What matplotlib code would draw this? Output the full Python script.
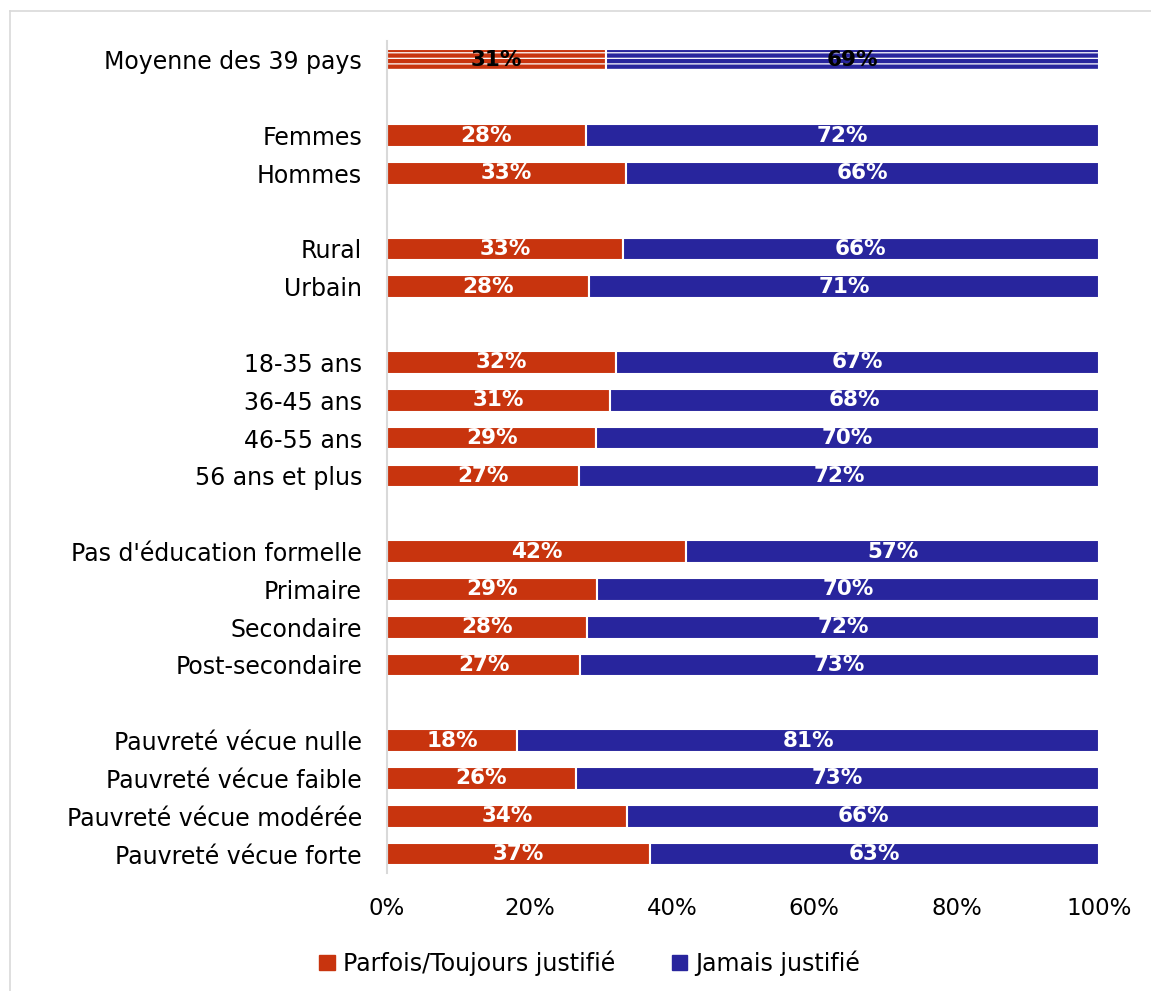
import matplotlib
matplotlib.use('Agg')
import numpy as np
import matplotlib.pyplot as plt
from matplotlib.lines import Line2D
from matplotlib.patches import Patch

plt.rcParams['font.family'] = ['DejaVu Sans']
plt.rcParams['hatch.linewidth'] = 0.9

categories = ["Moyenne des 39 pays",
              "Femmes", "Hommes",
              "Rural", "Urbain",
              "18-35 ans", "36-45 ans", "46-55 ans", "56 ans et plus",
              "Pas d'éducation formelle", "Primaire", "Secondaire", "Post-secondaire",
              "Pauvreté vécue nulle", "Pauvreté vécue faible",
              "Pauvreté vécue modérée", "Pauvreté vécue forte"]
# row slots (blank slots separate the groups)
slots = [0, 2, 3, 5, 6, 8, 9, 10, 11, 13, 14, 15, 16, 18, 19, 20, 21]

justifie = [30.8, 27.9, 33.6, 33.1, 28.4, 32.2, 31.3, 29.4, 27.0,
            42.0, 29.5, 28.1, 27.1, 18.3, 26.5, 33.7, 36.9]
jamais = [100 - v for v in justifie]
justifie_lbl = [31, 28, 33, 33, 28, 32, 31, 29, 27, 42, 29, 28, 27, 18, 26, 34, 37]
jamais_lbl = [69, 72, 66, 66, 71, 67, 68, 70, 72, 57, 70, 72, 73, 81, 73, 66, 63]

red = '#C8340E'
blue = '#28259D'

fig = plt.figure(figsize=(11.51, 9.91), dpi=100)
ax = fig.add_axes([387 / 1151, 1 - 873 / 991, 712 / 1151, 832 / 991])

y = np.array(slots)
h = 0.6
for i in range(len(categories)):
    hatch = '---' if i == 0 else None
    ax.barh(y[i], justifie[i], height=h, color=red, edgecolor='white',
            linewidth=1.5, hatch=hatch)
    ax.barh(y[i], jamais[i], left=justifie[i], height=h, color=blue,
            edgecolor='white', linewidth=1.5, hatch=hatch)
    tc = 'black' if i == 0 else 'white'
    ax.text(justifie[i] / 2, y[i], f"{justifie_lbl[i]}%", ha='center', va='center',
            color=tc, fontsize=15.5, fontweight='bold')
    ax.text(justifie[i] + jamais[i] / 2, y[i], f"{jamais_lbl[i]}%", ha='center',
            va='center', color=tc, fontsize=15.5, fontweight='bold')

ax.set_xlim(0, 100)
ax.set_ylim(21.5, -0.5)
ax.set_yticks(y)
ax.set_yticklabels(categories, fontsize=17)
ax.set_xticks(np.arange(0, 101, 20))
ax.set_xticklabels([f"{t}%" for t in range(0, 101, 20)], fontsize=16.5)
ax.tick_params(length=0, pad=17, axis='x')
ax.tick_params(length=0, pad=18, axis='y')
for s in ['top', 'right', 'bottom']:
    ax.spines[s].set_visible(False)
ax.spines['left'].set_color('#D9D9D9')
ax.spines['left'].set_linewidth(1.5)

handles = [Patch(color=red, label='Parfois/Toujours justifié'),
           Patch(color=blue, label='Jamais justifié')]
fig.legend(handles=handles, loc='center', bbox_to_anchor=(590 / 1151, 1 - 963 / 991),
           ncol=2, frameon=False, fontsize=17, handlelength=0.65, handleheight=0.65,
           handletextpad=0.35, columnspacing=2.4)

# chart border
fig.add_artist(Line2D([10 / 1151, 1], [1 - 11 / 991] * 2, color='#D9D9D9', lw=1.2))
fig.add_artist(Line2D([10 / 1151] * 2, [0, 1 - 11 / 991], color='#D9D9D9', lw=1.2))

fig.savefig('out.png', dpi=100)
